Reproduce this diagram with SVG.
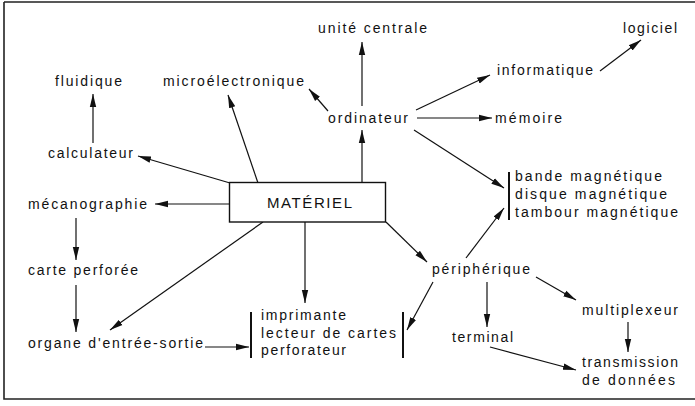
<svg xmlns="http://www.w3.org/2000/svg" width="695" height="406" viewBox="0 0 695 406">
<style>
text{font-family:"Liberation Sans",Arial,sans-serif;font-size:14px;fill:#111}
.c line,.c path{stroke:#111;stroke-width:1.2;fill:none}
.bar{stroke:#111;stroke-width:2}
.t{font-size:15px}
</style>
<defs>
<marker id="a" markerUnits="userSpaceOnUse" markerWidth="14" markerHeight="8" refX="13" refY="4" orient="auto">
<path d="M0,0.8 L13,4 L0,7.2 Z" fill="#111"/>
</marker>
</defs>
<rect x="0" y="0" width="695" height="406" fill="#fff"/>
<path d="M4,2 H700 M4,2 V399 H700" stroke="#222" stroke-width="1.6" fill="none"/>

<g class="c" id="connectors">
<line x1="93" y1="143" x2="93" y2="94" marker-end="url(#a)"/>
<line x1="230" y1="183" x2="138" y2="156" marker-end="url(#a)"/>
<line x1="258" y1="183" x2="228" y2="95" marker-end="url(#a)"/>
<line x1="328" y1="111" x2="309" y2="89" marker-end="url(#a)"/>
<line x1="362" y1="182" x2="362" y2="130" marker-end="url(#a)"/>
<line x1="362" y1="106" x2="362" y2="42" marker-end="url(#a)"/>
<line x1="600" y1="71" x2="641" y2="40" marker-end="url(#a)"/>
<line x1="416" y1="110" x2="490" y2="75" marker-end="url(#a)"/>
<line x1="417" y1="118" x2="492" y2="118" marker-end="url(#a)"/>
<line x1="414" y1="130" x2="504" y2="188" marker-end="url(#a)"/>
<line x1="229" y1="204" x2="155" y2="204" marker-end="url(#a)"/>
<line x1="76" y1="218" x2="76" y2="260" marker-end="url(#a)"/>
<line x1="76" y1="285" x2="76" y2="332" marker-end="url(#a)"/>
<line x1="205" y1="347" x2="249" y2="347" marker-end="url(#a)"/>
<line x1="263" y1="222" x2="110" y2="330" marker-end="url(#a)"/>
<line x1="305" y1="222" x2="305" y2="303" marker-end="url(#a)"/>
<line x1="386" y1="222" x2="427" y2="262" marker-end="url(#a)"/>
<line x1="466" y1="258" x2="504" y2="208" marker-end="url(#a)"/>
<line x1="433" y1="282" x2="407" y2="330" marker-end="url(#a)"/>
<line x1="487" y1="282" x2="487" y2="327" marker-end="url(#a)"/>
<line x1="536" y1="277" x2="576" y2="300" marker-end="url(#a)"/>
<line x1="628" y1="322" x2="628" y2="352" marker-end="url(#a)"/>
<line x1="490" y1="347" x2="576" y2="370" marker-end="url(#a)"/>
</g>

<g id="materiel">
<rect x="229.5" y="182.5" width="156" height="39.5" fill="#fff" stroke="#111" stroke-width="1.4"/>
<text class="t" x="267" y="208" textLength="85" lengthAdjust="spacing">MATÉRIEL</text>
</g>
<g id="fluidique"><text x="55" y="86" textLength="67" lengthAdjust="spacing">fluidique</text></g>
<g id="microelectronique"><text x="163" y="86" textLength="141" lengthAdjust="spacing">microélectronique</text></g>
<g id="unite-centrale"><text x="318" y="33" textLength="109" lengthAdjust="spacing">unité centrale</text></g>
<g id="logiciel"><text x="623" y="33" textLength="54" lengthAdjust="spacing">logiciel</text></g>
<g id="informatique"><text x="497" y="75" textLength="96" lengthAdjust="spacing">informatique</text></g>
<g id="ordinateur"><text x="328" y="123" textLength="80" lengthAdjust="spacing">ordinateur</text></g>
<g id="memoire"><text x="495" y="123" textLength="67" lengthAdjust="spacing">mémoire</text></g>
<g id="calculateur"><text x="48" y="158" textLength="85" lengthAdjust="spacing">calculateur</text></g>
<g id="supports">
<line class="bar" x1="509" y1="172" x2="509" y2="220"/>
<text x="515" y="181" textLength="147" lengthAdjust="spacing">bande magnétique</text>
<text x="515" y="199" textLength="152" lengthAdjust="spacing">disque magnétique</text>
<text x="515" y="217" textLength="163" lengthAdjust="spacing">tambour magnétique</text>
</g>
<g id="mecanographie"><text x="28" y="209" textLength="119" lengthAdjust="spacing">mécanographie</text></g>
<g id="carte-perforee"><text x="28" y="275" textLength="110" lengthAdjust="spacing">carte perforée</text></g>
<g id="organe"><text x="28" y="348" textLength="175" lengthAdjust="spacing">organe d'entrée-sortie</text></g>
<g id="es-list">
<line class="bar" x1="251" y1="312" x2="251" y2="358"/>
<line class="bar" x1="403" y1="312" x2="403" y2="358"/>
<text x="261" y="320" textLength="85" lengthAdjust="spacing">imprimante</text>
<text x="261" y="338" textLength="135" lengthAdjust="spacing">lecteur de cartes</text>
<text x="261" y="355" textLength="85" lengthAdjust="spacing">perforateur</text>
</g>
<g id="peripherique"><text x="432" y="274" textLength="98" lengthAdjust="spacing">périphérique</text></g>
<g id="terminal"><text x="452" y="342" textLength="61" lengthAdjust="spacing">terminal</text></g>
<g id="multiplexeur"><text x="582" y="315" textLength="96" lengthAdjust="spacing">multiplexeur</text></g>
<g id="transmission">
<text x="582" y="367" textLength="96" lengthAdjust="spacing">transmission</text>
<text x="582" y="385" textLength="93" lengthAdjust="spacing">de données</text>
</g>
</svg>
